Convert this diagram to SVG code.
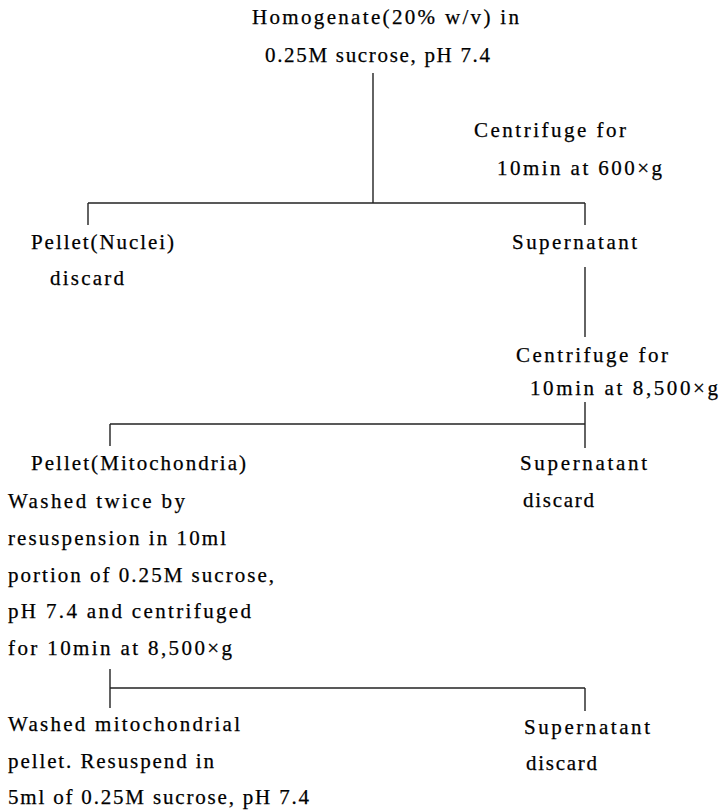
<svg xmlns="http://www.w3.org/2000/svg" width="721" height="810" viewBox="0 0 721 810">
<style>
text{font-family:"Liberation Serif","Times New Roman",serif;font-size:21px;fill:#000;stroke:#000;stroke-width:0.25}
.c line{stroke:#222;stroke-width:1.4}
</style>
<rect width="721" height="810" fill="#fff"/>
<g class="c" id="connectors">
<line x1="373" y1="73" x2="373" y2="203"/>
<line x1="88" y1="203" x2="585" y2="203"/>
<line x1="88" y1="203" x2="88" y2="225"/>
<line x1="585" y1="203" x2="585" y2="225"/>
<line x1="585" y1="267" x2="585" y2="337"/>
<line x1="585" y1="402" x2="585" y2="448"/>
<line x1="110" y1="424" x2="585" y2="424"/>
<line x1="110" y1="424" x2="110" y2="446"/>
<line x1="110" y1="669" x2="110" y2="708"/>
<line x1="110" y1="688" x2="585" y2="688"/>
<line x1="585" y1="688" x2="585" y2="711"/>
</g>
<g id="homogenate">
<text x="252" y="24" textLength="267">Homogenate(20% w/v) in</text>
<text x="265" y="62" textLength="225">0.25M sucrose, pH 7.4</text>
</g>
<g id="centrifuge1">
<text x="474" y="137" textLength="152">Centrifuge for</text>
<text x="497" y="175" textLength="165">10min at 600×g</text>
</g>
<g id="pellet-nuclei">
<text x="31" y="249" textLength="143">Pellet(Nuclei)</text>
<text x="50" y="285" textLength="74">discard</text>
</g>
<g id="supernatant1">
<text x="512" y="249" textLength="125">Supernatant</text>
</g>
<g id="centrifuge2">
<text x="516" y="362" textLength="152">Centrifuge for</text>
<text x="530" y="395" textLength="188">10min at 8,500×g</text>
</g>
<g id="pellet-mito">
<text x="31" y="470" textLength="215">Pellet(Mitochondria)</text>
<text x="8" y="508" textLength="177">Washed twice by</text>
<text x="8" y="545" textLength="218">resuspension in 10ml</text>
<text x="8" y="582" textLength="266">portion of 0.25M sucrose,</text>
<text x="8" y="618" textLength="243">pH 7.4 and centrifuged</text>
<text x="8" y="655" textLength="224">for 10min at 8,500×g</text>
</g>
<g id="supernatant2">
<text x="520" y="470" textLength="127">Supernatant</text>
<text x="523" y="507" textLength="71">discard</text>
</g>
<g id="washed-pellet">
<text x="8" y="731" textLength="232">Washed mitochondrial</text>
<text x="8" y="768" textLength="206">pellet. Resuspend in</text>
<text x="8" y="804" textLength="301">5ml of 0.25M sucrose, pH 7.4</text>
</g>
<g id="supernatant3">
<text x="524" y="734" textLength="126">Supernatant</text>
<text x="526" y="770" textLength="71">discard</text>
</g>
</svg>
